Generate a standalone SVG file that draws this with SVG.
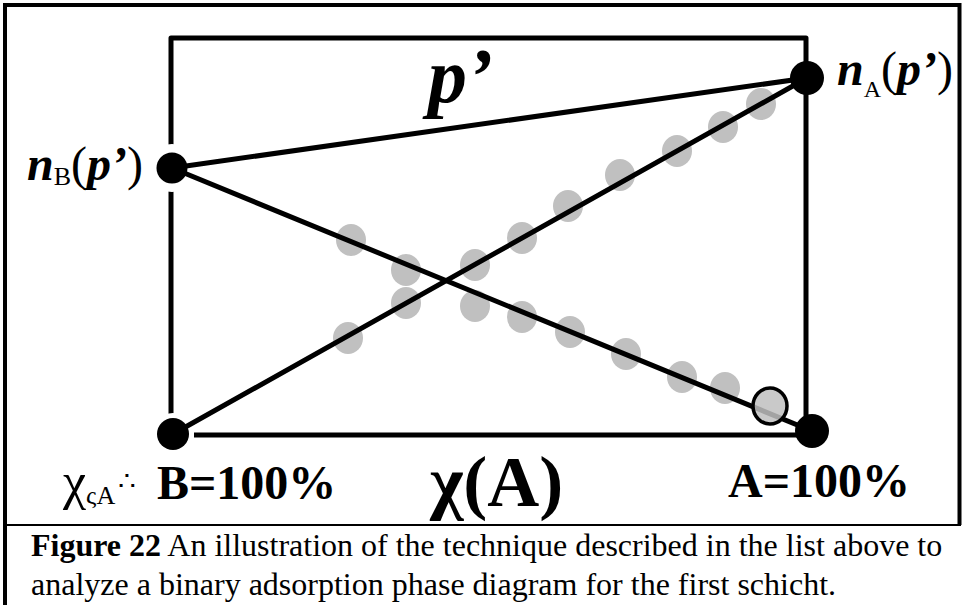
<svg xmlns="http://www.w3.org/2000/svg" width="964" height="605" viewBox="0 0 964 605">
<style>
.frame{fill:none;stroke:#000;stroke-width:4}
.thin{fill:none;stroke:#000;stroke-width:2}
.box{fill:none;stroke:#000;stroke-width:5;stroke-linejoin:round}
.ln{stroke:#000;stroke-width:5;stroke-linecap:round}
.gd{fill:#c0c0c0}
.dot{fill:#000}
.halo{fill:#fff}
.t{font-family:"Liberation Serif","Times New Roman",serif;fill:#000}
</style>
<rect width="964" height="605" fill="#fff"/>
<g id="frame">
<path class="frame" d="M5,605 V5 H959.5 V525"/>
<line class="thin" x1="4" y1="525" x2="961" y2="525"/>
</g>
<g id="gray-dots">
<ellipse class="gd" cx="761" cy="104" rx="15" ry="16"/>
<ellipse class="gd" cx="723" cy="127" rx="15" ry="16"/>
<ellipse class="gd" cx="677" cy="151" rx="15" ry="16"/>
<ellipse class="gd" cx="620" cy="175" rx="15" ry="16"/>
<ellipse class="gd" cx="568" cy="206" rx="15" ry="16"/>
<ellipse class="gd" cx="522" cy="238" rx="15" ry="16"/>
<ellipse class="gd" cx="475" cy="265" rx="15" ry="16"/>
<ellipse class="gd" cx="406" cy="303" rx="15" ry="16"/>
<ellipse class="gd" cx="348" cy="338" rx="15" ry="16"/>
<ellipse class="gd" cx="351" cy="240" rx="15" ry="16"/>
<ellipse class="gd" cx="406" cy="270" rx="15" ry="16"/>
<ellipse class="gd" cx="475" cy="306" rx="15" ry="16"/>
<ellipse class="gd" cx="522" cy="317" rx="15" ry="16"/>
<ellipse class="gd" cx="570" cy="332" rx="15" ry="16"/>
<ellipse class="gd" cx="626" cy="354" rx="15" ry="16"/>
<ellipse class="gd" cx="682" cy="377" rx="15" ry="16"/>
<ellipse class="gd" cx="725" cy="388" rx="15" ry="16"/>
</g>
<g id="axes">
<path class="box" d="M194,435 H806 V38 H171 V434"/>
</g>
<g id="halos">
<circle class="halo" cx="172" cy="168" r="24"/>
<circle class="halo" cx="173" cy="434" r="21"/>
</g>
<g id="connectors">
<line class="ln" x1="172" y1="168" x2="807" y2="78"/>
<line class="ln" x1="172" y1="168" x2="812" y2="431"/>
<line class="ln" x1="173" y1="434" x2="807" y2="78"/>
</g>
<g id="marked-point">
<ellipse cx="770" cy="406" rx="17" ry="18" fill="#c0c0c0" fill-opacity="0.85" stroke="#000" stroke-width="3.5"/>
</g>
<g id="node-nB"><circle class="dot" cx="172" cy="168" r="15.5"/></g>
<g id="node-nA"><circle class="dot" cx="807" cy="78" r="17"/></g>
<g id="node-B100"><circle class="dot" cx="173" cy="434" r="16"/></g>
<g id="node-A100"><circle class="dot" cx="812" cy="431" r="17"/></g>
<g id="labels">
<text class="t" x="428" y="102" font-size="78" font-weight="bold" font-style="italic">p’</text>
<text class="t" x="27" y="180" font-size="48"><tspan font-weight="bold" font-style="italic">n</tspan><tspan font-size="26" dy="5">B</tspan><tspan dy="-5">(</tspan><tspan font-weight="bold" font-style="italic">p’</tspan>)</text>
<text class="t" x="837" y="85" font-size="48"><tspan font-weight="bold" font-style="italic">n</tspan><tspan font-size="24" dy="12">A</tspan><tspan dy="-12">(</tspan><tspan font-weight="bold" font-style="italic">p’</tspan>)</text>
<text class="t" x="63" y="499" font-size="52">χ<tspan font-size="26" dy="5">ςA</tspan><tspan x="118" font-size="28" dy="-14">∴</tspan><tspan x="157" dy="9" font-size="48" font-weight="bold">B=100%</tspan></text>
<text class="t" x="430" y="506" font-size="72" font-weight="bold">χ(A)</text>
<text class="t" x="728" y="497" font-size="48" font-weight="bold">A=100%</text>
<text class="t" x="31" y="556" font-size="32"><tspan font-weight="bold">Figure 22</tspan> An illustration of the technique described in the list above to</text>
<text class="t" x="31" y="595" font-size="32">analyze a binary adsorption phase diagram for the first schicht.</text>
</g>
</svg>
